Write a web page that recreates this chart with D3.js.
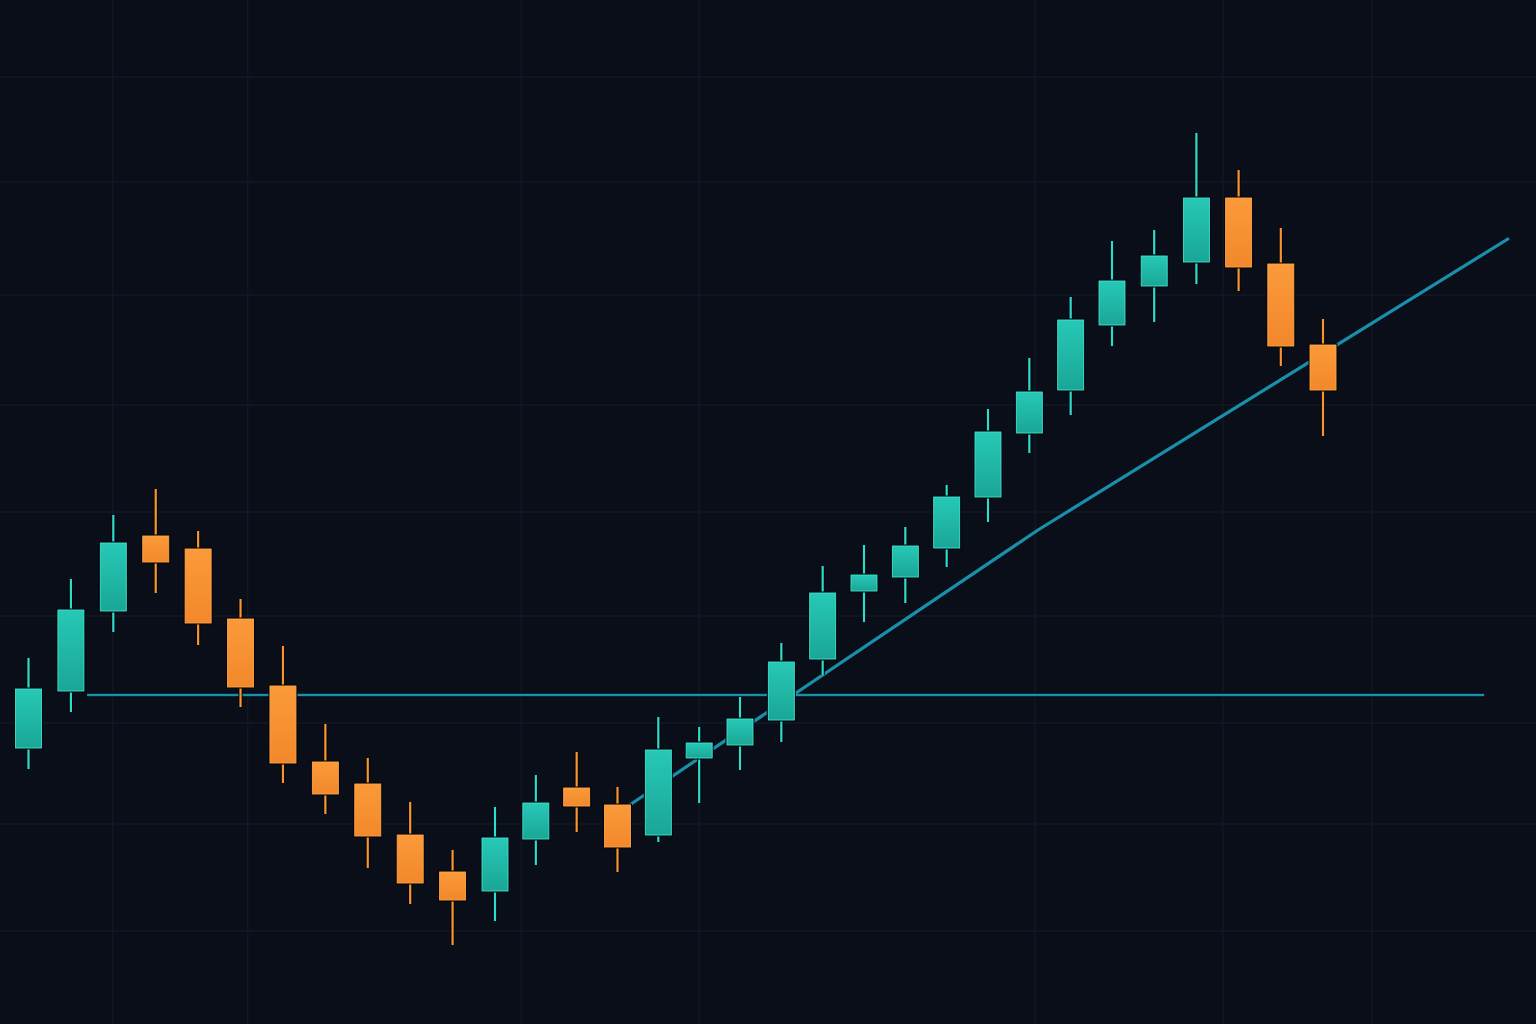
<!DOCTYPE html>
<html>
<head>
<meta charset="utf-8">
<script src="https://cdn.jsdelivr.net/npm/d3@7"></script>
<style>
  html, body { margin: 0; padding: 0; background: #0a0e18; overflow: hidden; }
  svg { display: block; }
</style>
</head>
<body>
<svg id="chart" width="1536" height="1024"></svg>
<script>
// ---- data ----
const categories = d3.range(1, 33).map(d => "D" + d);
const opens  = [28.3, 34.0, 42.0, 49.5, 48.2, 41.2, 34.5, 26.9, 24.7, 19.6, 15.9, 14.0, 19.2, 24.3, 22.6, 19.6,
                27.3, 28.6, 31.1, 37.2, 44.0, 45.4, 48.3, 53.4, 59.8, 64.1, 70.6, 74.5, 76.9, 83.3, 76.7, 68.6];
const highs  = [37.3, 45.2, 51.6, 54.2, 50.0, 43.2, 38.5, 30.7, 27.3, 22.9, 18.1, 22.4, 25.6, 27.9, 24.4, 31.4,
                30.4, 33.4, 38.8, 46.5, 48.6, 50.4, 54.6, 62.2, 67.3, 73.4, 79.0, 80.1, 89.8, 86.1, 80.3, 71.2];
const lows   = [26.2, 31.9, 39.9, 43.8, 38.6, 32.4, 24.8, 21.7, 16.3, 12.7,  8.6, 11.0, 16.6, 19.9, 15.9, 18.9,
                22.8, 26.1, 28.9, 35.6, 40.9, 42.8, 46.4, 50.9, 57.8, 61.6, 68.5, 70.9, 74.7, 74.0, 66.5, 59.5];
const closes = [34.2, 42.1, 48.8, 46.9, 40.8, 34.4, 26.8, 23.7, 19.5, 14.8, 13.1, 19.3, 22.8, 22.5, 18.4, 28.1,
                28.8, 31.2, 36.9, 43.8, 45.6, 48.5, 53.4, 59.9, 63.9, 71.1, 75.0, 77.5, 83.3, 76.4, 68.5, 64.1];

// horizontal support level (price) and its span (in candle-index units)
const supportLevel = [33.6];
const supportSpan  = [1.38, 34.82];
// trend line points: [index, price]
const trendIdx   = [14.26, 24.21, 35.38];
const trendPrice = [22.5, 50.1, 79.2];

// faint grid positions
const gridPrices = [95.4, 84.9, 73.6, 62.6, 51.9, 41.5, 30.8, 20.7, 10.0];
const gridIdx    = [1.99, 5.17, 11.64, 16.0, 24.14, 28.63, 32.16];

// ---- setup ----
const W = 1536, H = 1024;
const svg = d3.select("#chart");

// piecewise-linear time scale (candle spacing is slightly uneven)
const x = d3.scaleLinear().domain([0, 11, 17, 26, 31]).range([28.5, 495, 740, 1112, 1323]);
const y = d3.scaleLinear().domain([0, 103.1]).range([1031, 0]);

const bodyW = 26;
const colUpEdge = "#3fe3cf", colUpWick = "#2fdccb";
const colDnEdge = "#ffa547", colDnWick = "#f8952f";
const lineCol = "#1890aa";

svg.append("rect").attr("width", W).attr("height", H).attr("fill", "#0a0e18");

const defs = svg.append("defs");
const gUp = defs.append("linearGradient").attr("id", "gUp").attr("x1", 0).attr("y1", 0).attr("x2", 0).attr("y2", 1);
gUp.append("stop").attr("offset", "0%").attr("stop-color", "#27c8b6");
gUp.append("stop").attr("offset", "100%").attr("stop-color", "#1aa696");
const gDn = defs.append("linearGradient").attr("id", "gDn").attr("x1", 0).attr("y1", 0).attr("x2", 0).attr("y2", 1);
gDn.append("stop").attr("offset", "0%").attr("stop-color", "#fb9a3a");
gDn.append("stop").attr("offset", "100%").attr("stop-color", "#f2882b");

// grid
const grid = svg.append("g").attr("stroke", "#131925").attr("stroke-width", 1.3);
grid.selectAll("line.h").data(gridPrices).join("line").attr("class", "h")
  .attr("x1", 0).attr("x2", W).attr("y1", d => y(d)).attr("y2", d => y(d));
grid.selectAll("line.v").data(gridIdx).join("line").attr("class", "v")
  .attr("y1", 0).attr("y2", H).attr("x1", d => x(d)).attr("x2", d => x(d));

// support line
const sup = svg.append("g");
sup.append("line")
  .attr("x1", x(supportSpan[0])).attr("x2", x(supportSpan[1]))
  .attr("y1", y(supportLevel[0])).attr("y2", y(supportLevel[0]))
  .attr("stroke", "#02060c").attr("stroke-width", 4.5);
sup.append("line")
  .attr("x1", x(supportSpan[0])).attr("x2", x(supportSpan[1]))
  .attr("y1", y(supportLevel[0])).attr("y2", y(supportLevel[0]))
  .attr("stroke", lineCol).attr("stroke-width", 2.4);

// trend line
const trendData = trendIdx.map((d, i) => [d, trendPrice[i]]);
const lineGen = d3.line().x(d => x(d[0])).y(d => y(d[1]));
svg.append("path").datum(trendData).attr("d", lineGen)
  .attr("fill", "none").attr("stroke", lineCol).attr("stroke-width", 3.2)
  .attr("stroke-linecap", "round").attr("stroke-linejoin", "round");

// candles
const candles = categories.map((c, i) => ({
  c, i, o: opens[i], h: highs[i], l: lows[i], cl: closes[i], up: closes[i] >= opens[i]
}));

const cg = svg.append("g").selectAll("g").data(candles).join("g");

// wick shadow + wick
cg.append("line")
  .attr("x1", d => x(d.i)).attr("x2", d => x(d.i))
  .attr("y1", d => y(d.h)).attr("y2", d => y(d.l))
  .attr("stroke", "#02050a").attr("stroke-width", 4.2);
cg.append("line")
  .attr("x1", d => x(d.i)).attr("x2", d => x(d.i))
  .attr("y1", d => y(d.h)).attr("y2", d => y(d.l))
  .attr("stroke", d => d.up ? colUpWick : colDnWick).attr("stroke-width", 2.2);

// body outline shadow
cg.append("rect")
  .attr("x", d => x(d.i) - bodyW / 2 - 1.5)
  .attr("y", d => y(Math.max(d.o, d.cl)) - 1.5)
  .attr("width", bodyW + 3)
  .attr("height", d => Math.abs(y(d.o) - y(d.cl)) + 3)
  .attr("fill", "#02050a");
// body
cg.append("rect")
  .attr("x", d => x(d.i) - bodyW / 2)
  .attr("y", d => y(Math.max(d.o, d.cl)))
  .attr("width", bodyW)
  .attr("height", d => Math.max(1, Math.abs(y(d.o) - y(d.cl))))
  .attr("fill", d => d.up ? "url(#gUp)" : "url(#gDn)")
  .attr("stroke", d => d.up ? colUpEdge : colDnEdge)
  .attr("stroke-width", 0.9);
</script>
</body>
</html>
